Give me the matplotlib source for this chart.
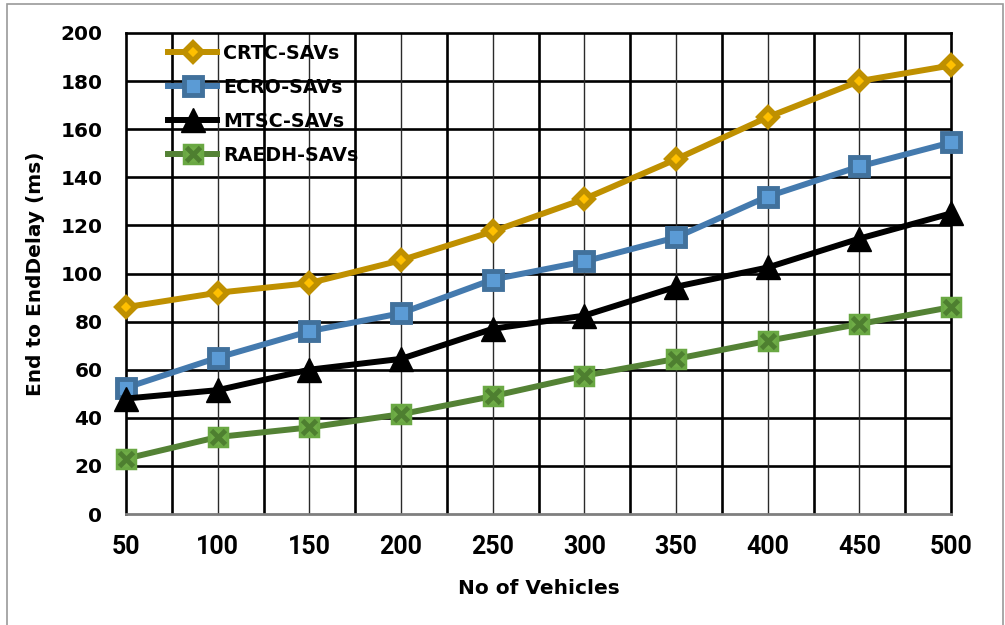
import matplotlib
matplotlib.use("Agg")
import matplotlib.pyplot as plt
from matplotlib.patches import Rectangle

categories = ["50", "100", "150", "200", "250", "300", "350", "400", "450", "500"]
crtc = [86, 92, 96, 105.5, 117.5, 131, 147.5, 165, 180, 186.5]
ecro = [52.5, 65, 76, 83.5, 97.5, 105, 115, 132, 144.5, 154.5]
mtsc = [48, 51.5, 60, 64.5, 77, 82.5, 94.5, 102.5, 114.5, 125]
raedh = [23, 32, 36, 41.5, 49, 57.5, 64.5, 72, 79, 86]
yticks = [0, 20, 40, 60, 80, 100, 120, 140, 160, 180, 200]

W, H = 1005, 625
fig = plt.figure(figsize=(W / 100, H / 100), dpi=100)
L, R, T, B = 126, 951, 33, 514
ax = fig.add_axes([L / W, 1 - B / H, (R - L) / W, (B - T) / H])

# outer chart frame
fig.patches.append(Rectangle((7 / W, -0.02), (1003 - 7) / W, 1 - 4 / H + 0.02,
                             transform=fig.transFigure, fill=False,
                             edgecolor="#9a9a9a", lw=1.2))

x = list(range(len(categories)))
ax.set_xlim(0, len(categories) - 1)
ax.set_ylim(0, 200)

# grid
for yv in yticks[1:-1]:
    ax.axhline(yv, color="black", lw=1.9, zorder=1)
for i in range(len(categories) - 1):
    ax.axvline(i + 0.5, color="black", lw=1.9, zorder=1)
for i in range(1, len(categories) - 1):
    ax.axvline(i, color="#2a2a2a", lw=1.0, zorder=1)

for s in ["left", "top", "right"]:
    ax.spines[s].set_color("black")
    ax.spines[s].set_linewidth(1.9)
ax.spines["bottom"].set_color("#7f7f7f")
ax.spines["bottom"].set_linewidth(2.0)

l1, = ax.plot(x, crtc, color="#BF9000", lw=4.3, marker="D", ms=9.5,
              mfc="#FFC000", mec="#BF9000", mew=4, zorder=3, clip_on=False)
l2, = ax.plot(x, ecro, color="#447AAE", lw=4.3, marker="s", ms=12.5,
              mfc="#5B9BD5", mec="#41719C", mew=3.5, zorder=4, clip_on=False)
l3, = ax.plot(x, mtsc, color="black", lw=4.3, marker="^", ms=17,
              mfc="black", mec="black", mew=1, zorder=5, clip_on=False)
l4, = ax.plot(x, raedh, color="#548235", lw=4.3, marker="s", ms=13.5,
              mfc="#70AD47", mec="#6aa843", mew=2.5, zorder=6, clip_on=False)
l4x, = ax.plot(x, raedh, linestyle="none", marker="x", ms=10,
               mec="#4E7F30", mew=3.5, zorder=7, clip_on=False)

ax.set_xticks(x)
ax.set_xticklabels(categories, fontfamily="Roboto", fontweight="bold", fontsize=18)
ax.set_yticks(yticks)
ax.set_yticklabels([str(v) for v in yticks], fontfamily="DejaVu Sans", fontweight="bold", fontsize=14.5)
ax.tick_params(axis="x", length=0, pad=15)
ax.tick_params(axis="y", length=0, pad=17)

ax.set_xlabel("No of Vehicles", fontfamily="DejaVu Sans", fontweight="bold", fontsize=14.5)
ax.xaxis.set_label_coords(0.5, -0.135)
ax.set_ylabel("End to EndDelay (ms)", fontfamily="DejaVu Sans", fontweight="bold", fontsize=14.5)
ax.yaxis.set_label_coords(-0.098, 0.5)

leg = ax.legend([l1, l2, l3, (l4, l4x)], ["CRTC-SAVs", "ECRO-SAVs", "MTSC-SAVs", "RAEDH-SAVs"],
                loc="upper left", bbox_to_anchor=((168 - L) / (R - L), 1 - (44 - T) / (B - T)),
                frameon=False, numpoints=1, handlelength=2.6, handletextpad=0.3,
                borderaxespad=0, borderpad=0, labelspacing=0.78,
                prop={"family": "DejaVu Sans", "weight": "bold", "size": 13.7})
leg.set_zorder(10)

fig.savefig("out.png", dpi=100)
